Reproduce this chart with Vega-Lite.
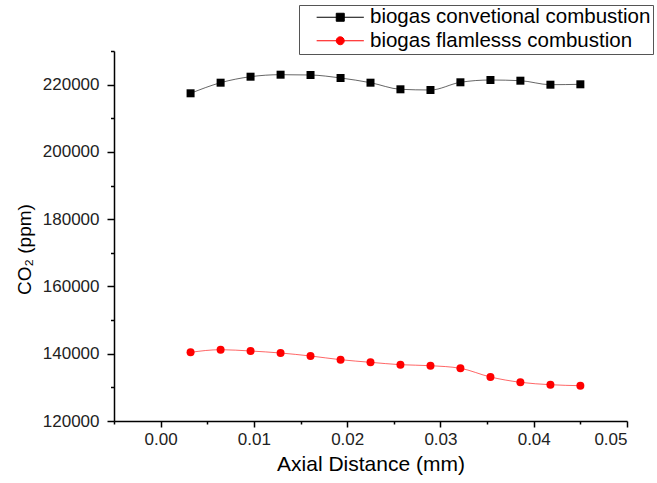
{
  "$schema": "https://vega.github.io/schema/vega-lite/v6.json",
  "width": 513,
  "height": 370,
  "autosize": "none",
  "padding": {"left": 114, "top": 51, "right": 30, "bottom": 62},
  "background": "white",
  "config": {"view": {"stroke": null}, "font": "Liberation Sans"},
  "data": {
    "values": [
      {"x": 0.00321, "co2": 217425, "series": "biogas convetional combustion"},
      {"x": 0.00643, "co2": 220578, "series": "biogas convetional combustion"},
      {"x": 0.00964, "co2": 222360, "series": "biogas convetional combustion"},
      {"x": 0.01286, "co2": 222955, "series": "biogas convetional combustion"},
      {"x": 0.01607, "co2": 222866, "series": "biogas convetional combustion"},
      {"x": 0.01929, "co2": 221974, "series": "biogas convetional combustion"},
      {"x": 0.0225, "co2": 220578, "series": "biogas convetional combustion"},
      {"x": 0.02571, "co2": 218614, "series": "biogas convetional combustion"},
      {"x": 0.02893, "co2": 218406, "series": "biogas convetional combustion"},
      {"x": 0.03214, "co2": 220696, "series": "biogas convetional combustion"},
      {"x": 0.03536, "co2": 221379, "series": "biogas convetional combustion"},
      {"x": 0.03857, "co2": 221171, "series": "biogas convetional combustion"},
      {"x": 0.04179, "co2": 219982, "series": "biogas convetional combustion"},
      {"x": 0.045, "co2": 220100, "series": "biogas convetional combustion"},
      {"x": 0.00321, "co2": 140424, "series": "biogas flamlesss combustion"},
      {"x": 0.00643, "co2": 141197, "series": "biogas flamlesss combustion"},
      {"x": 0.00964, "co2": 140811, "series": "biogas flamlesss combustion"},
      {"x": 0.01286, "co2": 140216, "series": "biogas flamlesss combustion"},
      {"x": 0.01607, "co2": 139325, "series": "biogas flamlesss combustion"},
      {"x": 0.01929, "co2": 138224, "series": "biogas flamlesss combustion"},
      {"x": 0.0225, "co2": 137451, "series": "biogas flamlesss combustion"},
      {"x": 0.02571, "co2": 136738, "series": "biogas flamlesss combustion"},
      {"x": 0.02893, "co2": 136441, "series": "biogas flamlesss combustion"},
      {"x": 0.03214, "co2": 135668, "series": "biogas flamlesss combustion"},
      {"x": 0.03536, "co2": 133081, "series": "biogas flamlesss combustion"},
      {"x": 0.03857, "co2": 131505, "series": "biogas flamlesss combustion"},
      {"x": 0.04179, "co2": 130792, "series": "biogas flamlesss combustion"},
      {"x": 0.045, "co2": 130495, "series": "biogas flamlesss combustion"}
    ]
  },
  "layer": [
    {
      "mark": {"type": "line", "interpolate": "monotone", "strokeWidth": 1, "opacity": 0.6},
      "encoding": {
        "x": {
          "field": "x", "type": "quantitative",
          "scale": {"domain": [-0.005, 0.05], "nice": false, "zero": false},
          "axis": {
            "orient": "bottom", "values": [0, 0.01, 0.02, 0.03, 0.04, 0.05], "format": ".2f",
            "grid": false, "domainColor": "#000", "domainWidth": 1.5, "tickColor": "#000", "tickWidth": 1.5,
            "tickSize": 6, "labelFontSize": 17, "labelColor": "#222", "labelPadding": 4,
            "title": "Axial Distance (mm)", "titleFontSize": 21, "titleFontWeight": "normal", "titleColor": "#000", "titlePadding": 6
          }
        },
        "y": {
          "field": "co2", "type": "quantitative",
          "scale": {"domain": [120000, 230000], "nice": false, "zero": false},
          "axis": {
            "orient": "left", "values": [120000, 140000, 160000, 180000, 200000, 220000], "format": "d",
            "grid": false, "domainColor": "#000", "domainWidth": 1.5, "tickColor": "#000", "tickWidth": 1.5,
            "tickSize": 7, "labelFontSize": 17, "labelColor": "#222", "labelPadding": 8,
            "title": "CO₂ (ppm)", "titleFontSize": 19, "titleFontWeight": "normal", "titleColor": "#000", "titlePadding": 8,
            "titleY": 198
          }
        },
        "color": {
          "field": "series", "type": "nominal",
          "scale": {"domain": ["biogas convetional combustion", "biogas flamlesss combustion"], "range": ["#000000", "#ff0000"]},
          "legend": {
            "orient": "none", "legendX": 185, "legendY": -46, "title": null,
            "labelFontSize": 20.5, "labelColor": "#000", "labelOffset": 19.5, "symbolOffset": 29, "labelLimit": 0,
            "padding": 2, "rowPadding": 2.5, "strokeColor": "#555", "fillColor": "white",
            "symbolSize": 64, "symbolOpacity": 1,
            "encode": {
              "symbols": {
                "update": {
                  "shape": {"signal": "datum.value === 'biogas convetional combustion' ? 'M-5.9,0H5.9M-1,-1H1V1H-1Z' : 'M-5.9,0H5.9M-1,0A1,1 0 1,0 1,0A1,1 0 1,0 -1,0Z'"},
                  "fill": {"signal": "datum.value === 'biogas convetional combustion' ? '#000' : '#f00'"},
                  "stroke": {"signal": "datum.value === 'biogas convetional combustion' ? '#555' : '#f66'"},
                  "strokeWidth": {"value": 1},
                  "opacity": {"value": 1}
                }
              }
            }
          }
        }
      }
    },
    {
      "transform": [{"filter": "datum.series === 'biogas convetional combustion'"}],
      "mark": {"type": "point", "shape": "square", "filled": true, "opacity": 1, "size": 64},
      "encoding": {
        "x": {
          "field": "x", "type": "quantitative",
          "axis": {
            "orient": "bottom", "values": [-0.005, 0.005, 0.015, 0.025, 0.035, 0.045],
            "grid": false, "domain": false, "labels": false, "title": null,
            "tickColor": "#000", "tickWidth": 1.5, "tickSize": 3
          }
        },
        "y": {
          "field": "co2", "type": "quantitative",
          "axis": {
            "orient": "left", "values": [130000, 150000, 170000, 190000, 210000, 230000],
            "grid": false, "domain": false, "labels": false, "title": null,
            "tickColor": "#000", "tickWidth": 1.5, "tickSize": 3.5
          }
        },
        "color": {"field": "series", "type": "nominal"}
      }
    },
    {
      "transform": [{"filter": "datum.series === 'biogas flamlesss combustion'"}],
      "mark": {"type": "point", "shape": "circle", "filled": true, "opacity": 1, "size": 64},
      "encoding": {
        "x": {"field": "x", "type": "quantitative", "axis": null},
        "y": {"field": "co2", "type": "quantitative", "axis": null},
        "color": {"field": "series", "type": "nominal"}
      }
    }
  ],
  "resolve": {"axis": {"x": "independent", "y": "independent"}}
}
